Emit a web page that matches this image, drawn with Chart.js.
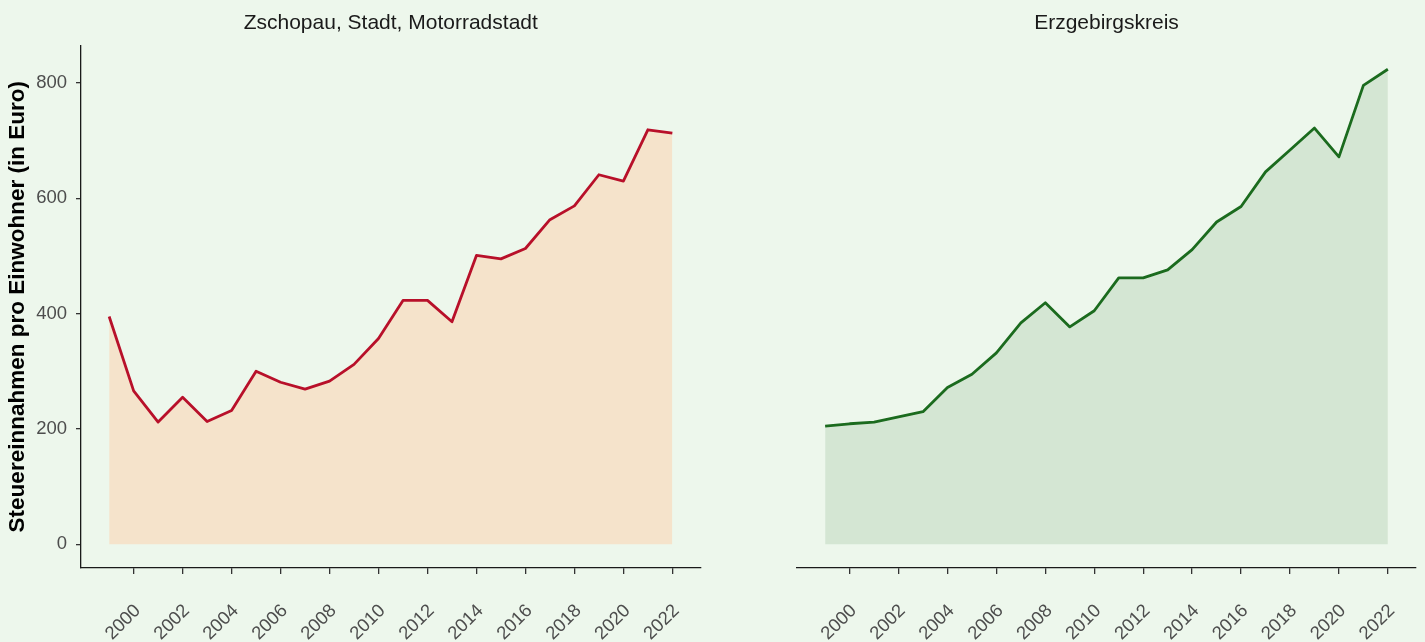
<!DOCTYPE html>
<html>
<head>
<meta charset="utf-8">
<script src="https://cdn.jsdelivr.net/npm/chart.js@4/dist/chart.umd.min.js"></script>
<style>
  html, body { margin: 0; padding: 0; background: #EDF7EC; }
  #wrap { position: relative; width: 1425px; height: 642px; overflow: hidden; }
  canvas { position: absolute; left: 0; top: 0; }
</style>
</head>
<body>
<div id="wrap">
  <canvas id="c1" width="1425" height="642"></canvas>
  <canvas id="c2" width="1425" height="642"></canvas>
</div>
<script>
const years = [1999, 2000, 2001, 2002, 2003, 2004, 2005, 2006, 2007, 2008, 2009, 2010,
               2011, 2012, 2013, 2014, 2015, 2016, 2017, 2018, 2019, 2020, 2021, 2022];
const zschopau = [395, 266, 212, 255, 213, 232, 300, 281, 269, 283, 312, 357,
                  423, 423, 386, 501, 495, 513, 563, 587, 641, 630, 719, 713];
const erzgebirgskreis = [205, 209, 212, 221, 230, 272, 295, 332, 384, 419, 377, 405,
                         462, 462, 476, 511, 559, 586, 646, 684, 722, 672, 796, 824];
const panelTitles = ["Zschopau, Stadt, Motorradstadt", "Erzgebirgskreis"];
const yTickValues = [0, 200, 400, 600, 800];
const xTickValues = [2000, 2002, 2004, 2006, 2008, 2010, 2012, 2014, 2016, 2018, 2020, 2022];
const yAxisTitle = "Steuereinnahmen pro Einwohner (in Euro)";

const FONT = "'Liberation Sans', Arial, Helvetica, sans-serif";
const allVals = zschopau.concat(erzgebirgskreis);
const yMaxData = Math.max(...allVals), yMinData = 0;
const yPad = (yMaxData - yMinData) * 0.05;
const xPad = (years[years.length - 1] - years[0]) * 0.05;

const panelTitlePlugin = {
  id: 'panelTitle',
  afterDraw(chart, args, opts) {
    const ctx = chart.ctx, a = chart.chartArea;
    ctx.save();
    ctx.fillStyle = '#1A1A1A';
    ctx.font = '21px ' + FONT;
    ctx.textAlign = 'center';
    ctx.textBaseline = 'middle';
    ctx.fillText(opts.text, (a.left + a.right) / 2, 23);
    ctx.restore();
  }
};

function makeChart(id, values, lineColor, fillColor, title, showY, padLeft, padRight) {
  return new Chart(document.getElementById(id), {
    type: 'line',
    data: {
      datasets: [{
        data: years.map((y, i) => ({ x: y, y: values[i] })),
        borderColor: lineColor,
        backgroundColor: fillColor,
        borderWidth: 2.8,
        fill: 'origin',
        pointRadius: 0,
        tension: 0,
        borderJoinStyle: 'round'
      }]
    },
    plugins: [panelTitlePlugin],
    options: {
      responsive: false,
      animation: false,
      events: [],
      layout: { padding: { left: padLeft, right: padRight, top: 45.5, bottom: 0 } },
      plugins: {
        legend: { display: false },
        tooltip: { enabled: false },
        panelTitle: { text: title }
      },
      scales: {
        x: {
          type: 'linear',
          min: years[0] - xPad,
          max: years[years.length - 1] + xPad,
          afterBuildTicks: s => { s.ticks = xTickValues.map(v => ({ value: v })); },
          afterFit: s => { s.height = 74; s.paddingLeft = 0; s.paddingRight = 0; },
          grid: { display: true, drawOnChartArea: false, drawTicks: true, tickLength: 6, color: '#333333', lineWidth: 1.3 },
          border: { display: true, color: '#1A1A1A', width: 1.3 },
          ticks: {
            minRotation: 45, maxRotation: 45, autoSkip: false,
            color: '#4D4D4D', font: { family: FONT, size: 18.5 }, padding: 26, labelOffset: 4,
            callback: v => String(v)
          }
        },
        y: {
          type: 'linear',
          display: showY ? true : false,
          min: yMinData - yPad,
          max: yMaxData + yPad,
          afterBuildTicks: s => { s.ticks = yTickValues.map(v => ({ value: v })); },
          afterFit: s => { s.width = showY ? 81 : 0; },
          grid: { display: true, drawOnChartArea: false, drawTicks: true, tickLength: 5, color: '#333333', lineWidth: 1.3 },
          border: { display: true, color: '#1A1A1A', width: 1.3 },
          ticks: { color: '#4D4D4D', font: { family: FONT, size: 18.5 }, padding: 9 },
          title: {
            display: true, text: yAxisTitle, color: '#000000',
            font: { family: FONT, size: 22.5, weight: 'bold' }, padding: { top: 4, bottom: 4 }
          }
        }
      }
    }
  });
}

makeChart('c1', zschopau, '#B8102A', '#F5E3CB', panelTitles[0], true, 0, 1425 - 700.5);
makeChart('c2', erzgebirgskreis, '#1B6B1E', '#D4E6D3', panelTitles[1], false, 797, 1425 - 1416);
</script>
</body>
</html>
